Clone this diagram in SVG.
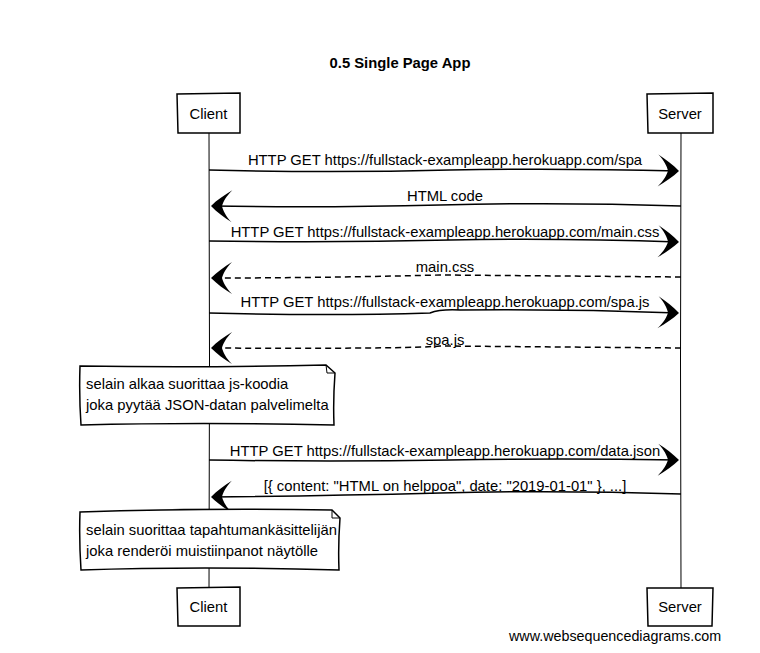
<svg xmlns="http://www.w3.org/2000/svg" width="760" height="653" viewBox="0 0 760 653">
<style>
text{font-family:"Liberation Sans",Arial,sans-serif;font-size:14.8px;fill:#000}
.t{font-weight:bold;text-anchor:middle;font-size:14.8px}
.m{text-anchor:middle}
.f{font-size:14.3px}
.box{fill:#fff;stroke:#000;stroke-width:1.5}
.life{fill:none;stroke:#000;stroke-width:1}
.msg{fill:none;stroke:#000;stroke-width:1.5}
.dash{stroke-dasharray:6,4}
</style>
<defs>
<marker id="ah" markerUnits="userSpaceOnUse" markerWidth="40" markerHeight="40" refX="0" refY="0" viewBox="-20 -20 40 40" orient="auto" overflow="visible">
<path d="M1,0 C-5,-6 -12,-11 -20,-16 C-14,-10 -11,-4 -10,0 C-11,4 -14,10 -20,16 C-12,11 -5,6 1,0 Z" fill="#000"/>
</marker>
</defs>
<rect width="760" height="653" fill="#fff"/>
<text class="t" x="400" y="68">0.5 Single Page App</text>
<g id="lifelines">
<path class="life" d="M209,133 L209.5,360 L209,590"/>
<path class="life" d="M681,133 L680.5,360 L681,590"/>
</g>
<g id="client-top"><path class="box" d="M177,94 L240,93 L240,133 L178,133 Z"/><text class="m" x="208.5" y="119">Client</text></g>
<g id="server-top"><path class="box" d="M647,94 L713,93 L713,133 L648,133 Z"/><text class="m" x="680" y="119">Server</text></g>
<g id="client-bottom"><path class="box" d="M177,588 L240,587 L240,626 L178,626 Z"/><text class="m" x="208.5" y="612">Client</text></g>
<g id="server-bottom"><path class="box" d="M647,588 L713,588 L712,626 L648,626 Z"/><text class="m" x="680" y="612">Server</text></g>
<g id="connectors">
<path class="msg" marker-end="url(#ah)" d="M209,170 Q330,173 450,170 Q560,168 678,171"/>
<text class="m" x="445" y="165">HTTP GET https://fullstack-exampleapp.herokuapp.com/spa</text>
<path class="msg" marker-end="url(#ah)" d="M681,206 Q560,202 440,205 Q320,208 212,206"/>
<text class="m" x="445" y="201">HTML code</text>
<path class="msg" marker-end="url(#ah)" d="M209,241 Q330,243 450,240 Q560,238 678,242"/>
<text class="m" x="445" y="237">HTTP GET https://fullstack-exampleapp.herokuapp.com/main.css</text>
<path class="msg dash" marker-end="url(#ah)" d="M681,277 Q560,276 440,275 Q320,278 212,278"/>
<text class="m" x="445" y="272">main.css</text>
<path class="msg" marker-end="url(#ah)" d="M209,313 Q330,316 430,313 Q440,309 460,310 Q570,309 678,313"/>
<text class="m" x="445" y="307">HTTP GET https://fullstack-exampleapp.herokuapp.com/spa.js</text>
<path class="msg dash" marker-end="url(#ah)" d="M681,348 Q560,347 440,346 Q410,349 212,348"/>
<text class="m" x="445" y="345">spa.js</text>
<path class="msg" marker-end="url(#ah)" d="M209,460 Q330,462 450,460 Q560,458 678,460"/>
<text class="m" x="445" y="456">HTTP GET https://fullstack-exampleapp.herokuapp.com/data.json</text>
<path class="msg" marker-end="url(#ah)" d="M681,494 Q560,490 440,493 Q320,496 212,497"/>
<text class="m" x="445" y="491">[{ content: "HTML on helppoa", date: "2019-01-01" }, ...]</text>
</g>
<g id="note1">
<path class="box" stroke-width="1" d="M80,366 Q200,368 326,365 L335,373 Q333,400 334,425 Q200,422 81,425 Q79,396 80,366 Z"/>
<path fill="none" stroke="#000" stroke-width="1" d="M326,365 L327,373 L335,373"/>
<text x="86" y="389">selain alkaa suorittaa js-koodia</text>
<text x="86" y="410">joka pyytää JSON-datan palvelimelta</text>
</g>
<g id="note2">
<path class="box" stroke-width="1" d="M80,512 Q200,508 332,510 L340,518 Q338,545 339,570 Q200,566 81,570 Q79,540 80,512 Z"/>
<path fill="none" stroke="#000" stroke-width="1" d="M332,510 L332,518 L340,518"/>
<text x="86" y="535">selain suorittaa tapahtumankäsittelijän</text>
<text x="86" y="556">joka renderöi muistiinpanot näytölle</text>
</g>
<text class="f" x="509" y="641">www.websequencediagrams.com</text>
</svg>
